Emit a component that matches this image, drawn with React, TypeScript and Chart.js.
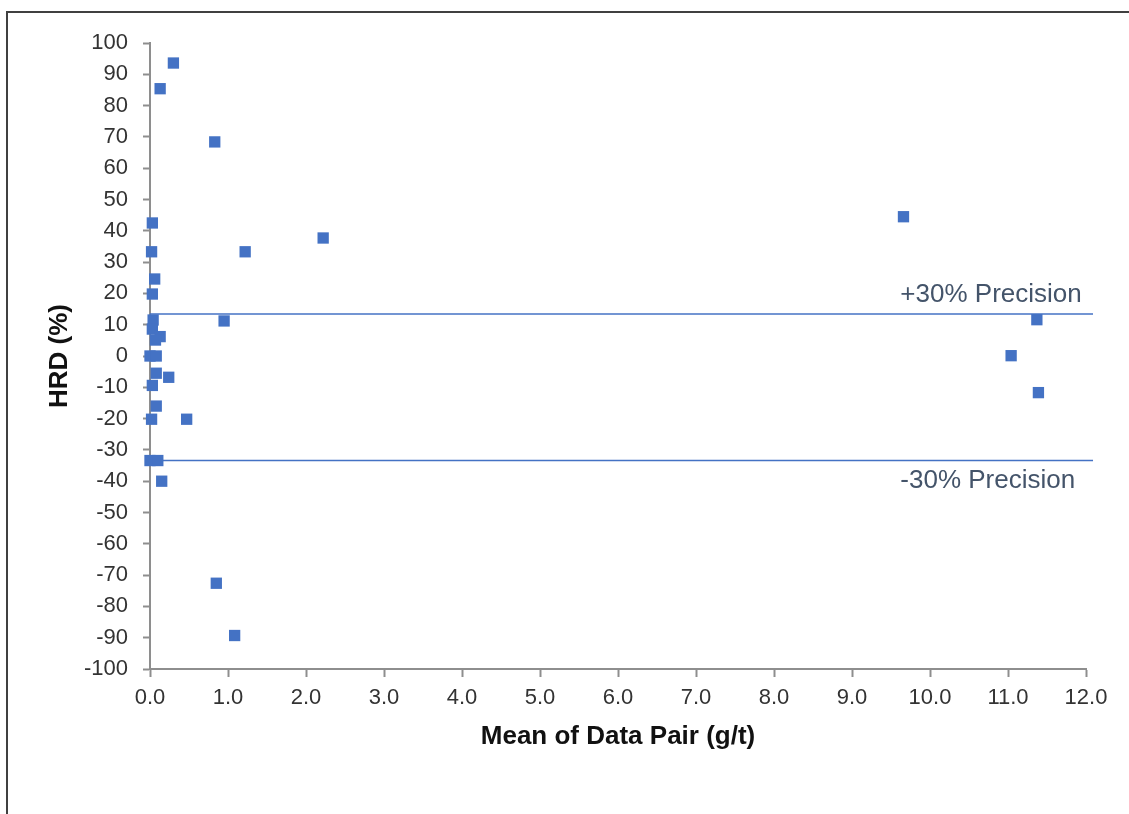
import React, { useEffect, useRef } from "react";
import { Chart, registerables } from "chart.js";

Chart.register(...registerables);

// Scatter points: mean of data pair (g/t) and HRD (%)
const meanValues = [
  0.30, 0.13, 0.83, 0.03, 0.02, 1.22, 2.22, 9.66,
  0.06, 0.03, 0.04, 0.03, 0.95, 11.37, 0.13, 0.07,
  0.0, 0.08, 11.04, 0.08, 0.24, 0.03, 11.39, 0.08,
  0.02, 0.47, 0.0, 0.10, 0.15, 0.85, 1.085,
];
const hrdValues = [
  93.6, 85.4, 68.4, 42.5, 33.3, 33.3, 37.7, 44.5,
  24.6, 19.8, 11.5, 8.6, 11.2, 11.6, 6.2, 5.1,
  0.0, 0.0, 0.1, -5.5, -6.8, -9.4, -11.7, -16.0,
  -20.2, -20.2, -33.4, -33.4, -40.0, -72.6, -89.3,
];

// Precision limit lines
const precisionLevels = [13.4, -33.4];
const precisionLabels = ["+30% Precision", "-30% Precision"];
const lineXRange = [0, 12.09];
const labelXValue = 9.62;

// Axis ticks
const xMin = 0;
const xMax = 12;
const xStep = 1;
const yMin = -100;
const yMax = 100;
const yStep = 10;

const xTitle = "Mean of Data Pair (g/t)";
const yTitle = "HRD (%)";

const FONT = "'Liberation Sans', Arial, sans-serif";
const BLUE = "#4472C4";
const AXIS = "#8e8e8e";
const TEXT = "#333333";

const labelPlugin = {
  id: "precisionLabels",
  afterDatasetsDraw(chart: any) {
    const { ctx, scales } = chart;
    const xs = scales.x;
    const ys = scales.y;
    ctx.save();
    ctx.font = `26px ${FONT}`;
    ctx.fillStyle = "#44546A";
    ctx.textAlign = "left";
    ctx.textBaseline = "alphabetic";
    precisionLabels.forEach((label, i) => {
      const px = xs.getPixelForValue(labelXValue);
      const py = ys.getPixelForValue(precisionLevels[i]);
      const offset = precisionLevels[i] >= 0 ? -12 : 27;
      ctx.fillText(label, px, py + offset);
    });
    ctx.restore();
  },
};

export default function App() {
  const canvasRef = useRef<HTMLCanvasElement | null>(null);

  useEffect(() => {
    if (!canvasRef.current) return;
    const points = meanValues.map((x, i) => ({ x, y: hrdValues[i] }));
    const lineSets = precisionLevels.map((lvl) => ({
      type: "line" as const,
      data: lineXRange.map((x) => ({ x, y: lvl })),
      borderColor: BLUE,
      borderWidth: 1.5,
      pointRadius: 0,
      showLine: true,
      fill: false,
      clip: false as any,
      order: 2,
    }));
    const chart = new Chart(canvasRef.current, {
      type: "scatter",
      data: {
        datasets: [
          {
            data: points,
            pointStyle: "rect",
            pointRadius: 8,
            pointHoverRadius: 8,
            backgroundColor: BLUE,
            borderColor: BLUE,
            borderWidth: 0,
            clip: false,
            order: 1,
          } as any,
          ...(lineSets as any),
        ],
      },
      options: {
        animation: false,
        responsive: false,
        devicePixelRatio: 1,
        events: [],
        layout: { padding: { left: 0, top: 43, right: 43, bottom: 45 } },
        plugins: {
          legend: { display: false },
          tooltip: { enabled: false },
        },
        scales: {
          x: {
            type: "linear",
            min: xMin,
            max: xMax,
            afterFit: (s: any) => {
              s.height = 100;
            },
            ticks: {
              stepSize: xStep,
              padding: 8,
              color: TEXT,
              font: { family: FONT, size: 22 },
              callback: (v: any) => Number(v).toFixed(1),
            },
            grid: {
              drawOnChartArea: false,
              drawTicks: true,
              tickLength: 8,
              tickColor: AXIS,
              tickWidth: 2,
            },
            border: { display: true, color: AXIS, width: 2 },
            title: {
              display: true,
              text: xTitle,
              color: "#111111",
              font: { family: FONT, size: 26, weight: "bold" },
              padding: { top: 0, bottom: 17 },
            },
          },
          y: {
            type: "linear",
            min: yMin,
            max: yMax,
            afterFit: (s: any) => {
              s.width = 150;
            },
            ticks: {
              stepSize: yStep,
              padding: 15,
              color: TEXT,
              font: { family: FONT, size: 22 },
            },
            grid: {
              drawOnChartArea: false,
              drawTicks: true,
              tickLength: 7,
              tickColor: AXIS,
              tickWidth: 2,
            },
            border: { display: true, color: AXIS, width: 2 },
            title: {
              display: true,
              text: yTitle,
              color: "#111111",
              font: { family: FONT, size: 26, weight: "bold" },
              padding: { top: 44, bottom: 0 },
            },
          },
        },
      },
      plugins: [labelPlugin],
    } as any);
    return () => chart.destroy();
  }, []);

  return (
    <div
      style={{
        position: "absolute",
        left: 0,
        top: 0,
        width: 1129,
        height: 814,
        overflow: "hidden",
        background: "#fff",
      }}
    >
      <div
        style={{
          position: "absolute",
          left: 6,
          top: 11,
          width: 1300,
          height: 1000,
          borderLeft: "2px solid #404040",
          borderTop: "2px solid #404040",
          boxSizing: "border-box",
        }}
      />
      <canvas
        ref={canvasRef}
        width={1129}
        height={814}
        style={{ position: "absolute", left: 0, top: 0, width: 1129, height: 814 }}
      />
    </div>
  );
}
